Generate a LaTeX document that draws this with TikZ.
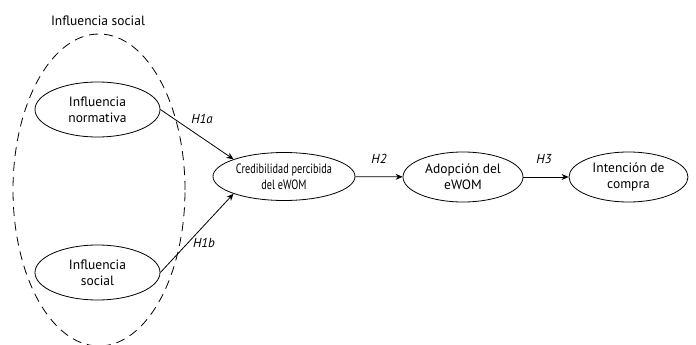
\documentclass[tikz,border=0pt]{standalone}
\usepackage{fontspec}
\setmainfont{PT Sans}
\newfontfamily\narrowfont[FakeStretch=0.76]{PT Sans}
\usetikzlibrary{shapes.geometric,arrows.meta}
\begin{document}
\begin{tikzpicture}[x=1pt,y=-1pt,
  construct/.style={draw,ellipse,line width=0.8pt,inner sep=0pt,align=center,font=\fontsize{13.5}{16}\selectfont},
  link/.style={draw,line width=0.8pt,-{Stealth[length=7pt,width=6pt]}},
  hyp/.style={font=\fontsize{13}{15}\selectfont\itshape}]
\useasboundingbox (0,0) rectangle (696,345);
\node[draw,ellipse,dash pattern=on 9pt off 6pt,line width=0.8pt,minimum width=172pt,minimum height=312pt] (group) at (99,190) {};
\node[font=\fontsize{13.5}{16}\selectfont] (grouplabel) at (98,21) {Influencia social};
\node[construct,minimum width=125pt,minimum height=55pt] (norm) at (97.5,109.5) {Influencia\\normativa};
\node[construct,minimum width=125pt,minimum height=55pt] (soc) at (97.5,272.5) {Influencia\\social};
\node[construct,minimum width=142pt,minimum height=48pt,font=\narrowfont\fontsize{13.5}{16}\selectfont] (cred) at (284,176.5) {Credibilidad percibida\\del eWOM};
\node[construct,minimum width=120pt,minimum height=50pt] (adop) at (463,177) {Adopción del\\eWOM};
\node[construct,minimum width=119pt,minimum height=50pt] (int) at (628.5,177) {Intención de\\compra};
\draw[link] (norm.east) -- (cred.north west);
\draw[link] (soc.east) -- (cred.south west);
\draw[link] (cred) -- (adop);
\draw[link] (adop) -- (int);
\node[hyp] (h1a) at (202,119) {H1a};
\node[hyp] (h1b) at (204,243) {H1b};
\node[hyp] (h2) at (379,159) {H2};
\node[hyp] (h3) at (544,159) {H3};
\end{tikzpicture}
\end{document}
